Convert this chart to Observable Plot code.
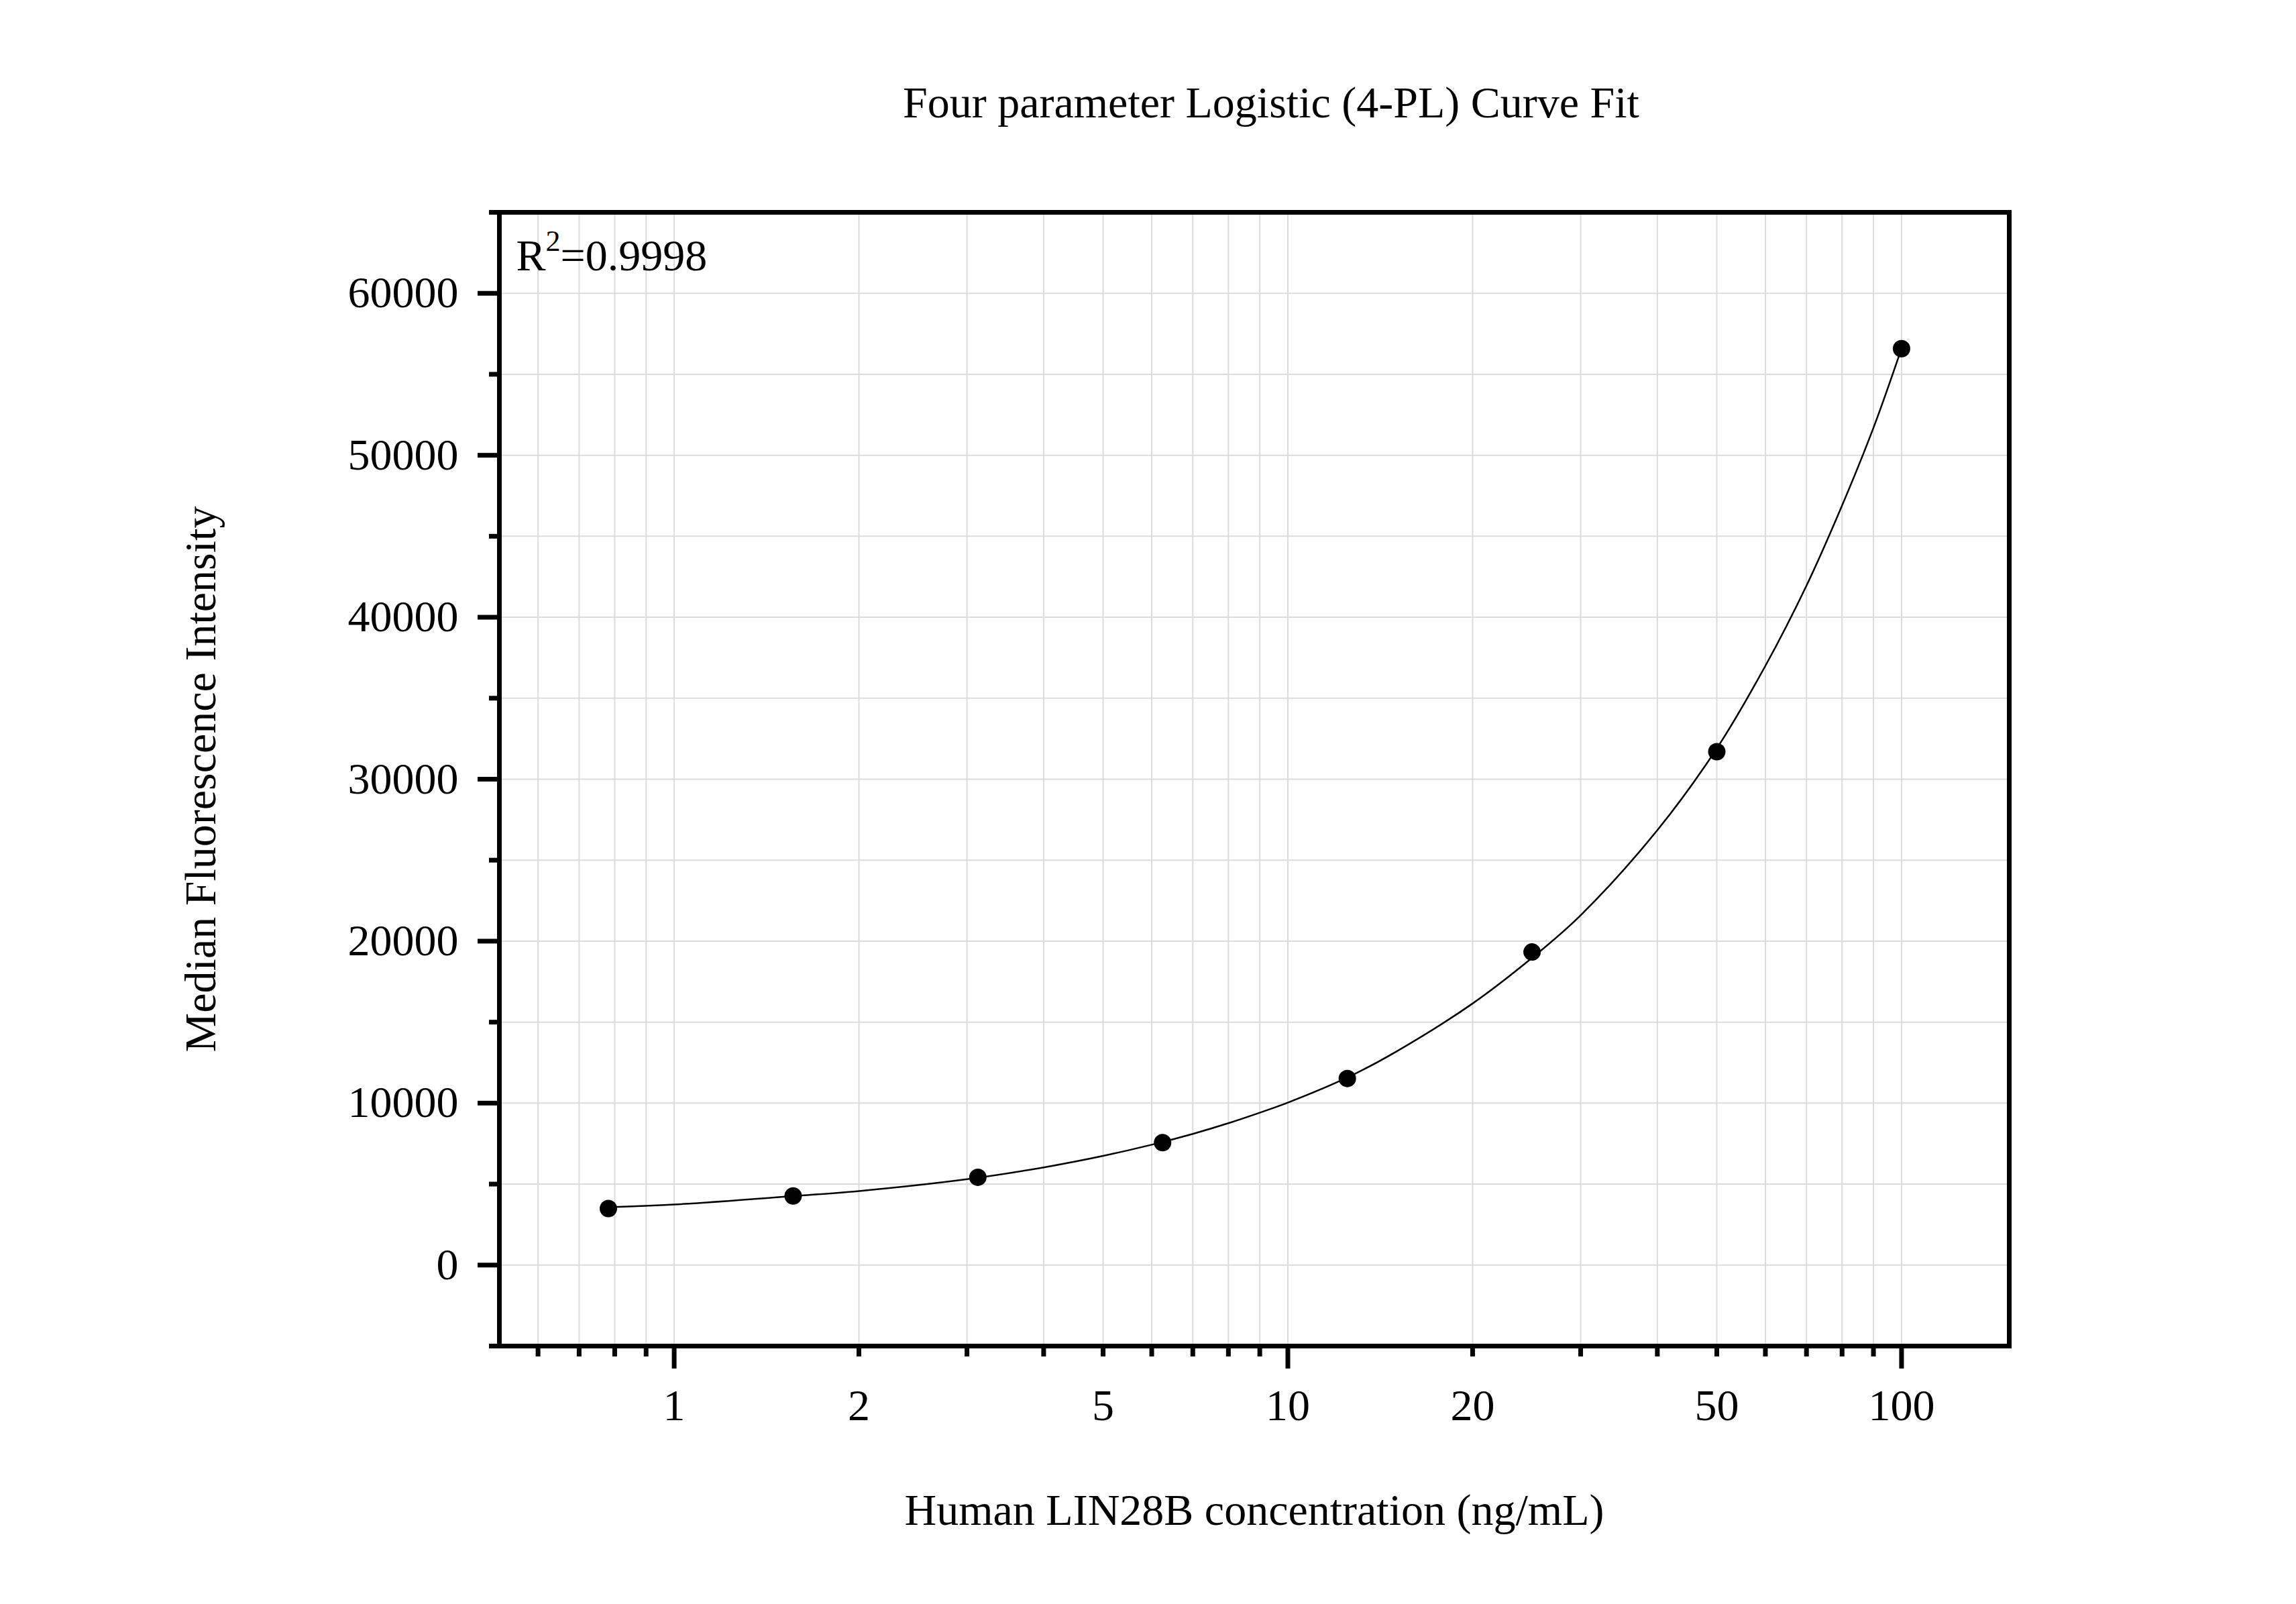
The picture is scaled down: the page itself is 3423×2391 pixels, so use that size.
<!DOCTYPE html>
<html>
<head>
<meta charset="utf-8">
<script src="https://cdn.jsdelivr.net/npm/d3@7"></script>
<script src="https://cdn.jsdelivr.net/npm/@observablehq/plot@0.6"></script>
<style>
  html, body { margin: 0; padding: 0; background: #ffffff; }
  #chart svg { display: block; }
</style>
</head>
<body>
<div id="chart"></div>
<script>
// ---- Data ----
const concentrations = [0.78125, 1.5625, 3.125, 6.25, 12.5, 25, 50, 100];
const mfi = [3490, 4270, 5420, 7560, 11520, 19330, 31700, 56580];

// fitted 4-PL curve
const fitX = [0.78125, 1, 1.5625, 2, 3, 4, 5, 6, 7, 8, 9, 10, 12.5, 15, 20, 25, 30, 40, 50, 60, 70, 80, 90, 100];
const fitY = [3570, 3740, 4260, 4570, 5300, 6030, 6740, 7430, 8100, 8760, 9410, 10030, 11580, 13170, 16150, 18970, 21600, 26850, 31900, 37000, 41950, 46900, 51700, 56600];

// axis ticks
const xMajorTicks = [1, 10, 100];
const xMinorTicks = [0.6, 0.7, 0.8, 0.9, 2, 3, 4, 5, 6, 7, 8, 9, 20, 30, 40, 50, 60, 70, 80, 90];
const xTickLabels = [1, 2, 5, 10, 20, 50, 100];
const yMajorTicks = [0, 10000, 20000, 30000, 40000, 50000, 60000];
const yMinorTicks = [-5000, 5000, 15000, 25000, 35000, 45000, 55000, 65000];
const yGrid = [-5000, 0, 5000, 10000, 15000, 20000, 25000, 30000, 35000, 40000, 45000, 50000, 55000, 60000, 65000];

const titleText = "Four parameter Logistic (4-PL) Curve Fit";
const xLabel = "Human LIN28B concentration (ng/mL)";
const yLabel = "Median Fluorescence Intensity";
const r2Text = "R2=0.9998";

// ---- Build tables ----
const points = concentrations.map((c, i) => ({x: c, y: mfi[i]}));
const fit = fitX.map((c, i) => ({x: c, y: fitY[i]}));
const xGrid = [...xMajorTicks, ...xMinorTicks];

const FONT = "'Liberation Serif', 'Times New Roman', Times, serif";
const grid = "#dcdcdc";

const plot = Plot.plot({
  width: 3423,
  height: 2391,
  marginLeft: 744,
  marginRight: 428,
  marginTop: 316,
  marginBottom: 385,
  style: {fontFamily: FONT, fontSize: "66px", background: "#ffffff", color: "#000000"},
  x: {type: "log", domain: [0.519, 149.8]},
  y: {domain: [-5000, 65000]},
  marks: [
    Plot.ruleX(xGrid, {stroke: grid, strokeWidth: 2}),
    Plot.ruleY(yGrid, {stroke: grid, strokeWidth: 2}),
    Plot.line(fit, {x: "x", y: "y", curve: "catmull-rom", stroke: "#000000", strokeWidth: 2.5}),
    Plot.dot(points, {x: "x", y: "y", r: 13, fill: "#000000", stroke: "none"}),
    // x ticks
    Plot.axisX(xMajorTicks, {tickSize: 34, strokeWidth: 7, fill: "none", label: null}),
    Plot.axisX(xMinorTicks, {tickSize: 16, strokeWidth: 7, fill: "none", label: null}),
    Plot.axisX(xTickLabels, {tickSize: 0, tickPadding: 64, tickFormat: d => String(d), label: null, fontSize: 66}),
    // y ticks
    Plot.axisY(yMajorTicks, {tickSize: 32, strokeWidth: 7, fill: "none", label: null}),
    Plot.axisY(yMinorTicks, {tickSize: 15, strokeWidth: 7, fill: "none", label: null}),
    Plot.axisY(yMajorTicks, {tickSize: 0, tickPadding: 61, tickFormat: d => String(d), label: null, fontSize: 66}),
    Plot.frame({stroke: "#000000", strokeWidth: 7}),
    // texts
    Plot.text([titleText], {frameAnchor: "top", dx: 25, dy: -163, fontSize: 66, textAnchor: "middle", lineAnchor: "middle", fill: "#000000"}),
    Plot.text([xLabel], {frameAnchor: "bottom", dy: 245, fontSize: 66, textAnchor: "middle", lineAnchor: "middle", fill: "#000000"}),
    Plot.text([yLabel], {frameAnchor: "left", dx: -445, rotate: -90, fontSize: 66, textAnchor: "middle", lineAnchor: "middle", fill: "#000000"}),
    Plot.text([r2Text], {frameAnchor: "top-left", dx: 25, dy: 65, fontSize: 66, textAnchor: "start", lineAnchor: "middle", fill: "#000000"})
  ]
});

document.getElementById("chart").appendChild(plot);

// superscript the "2" in R2
d3.select(plot).selectAll("text").each(function() {
  if (this.textContent === r2Text) {
    const t = d3.select(this);
    t.text(null);
    t.append("tspan").text("R");
    t.append("tspan").attr("dy", -29).attr("font-size", 44).text("2");
    t.append("tspan").attr("dy", 29).attr("font-size", 66).text("=0.9998");
  }
});
</script>
</body>
</html>
